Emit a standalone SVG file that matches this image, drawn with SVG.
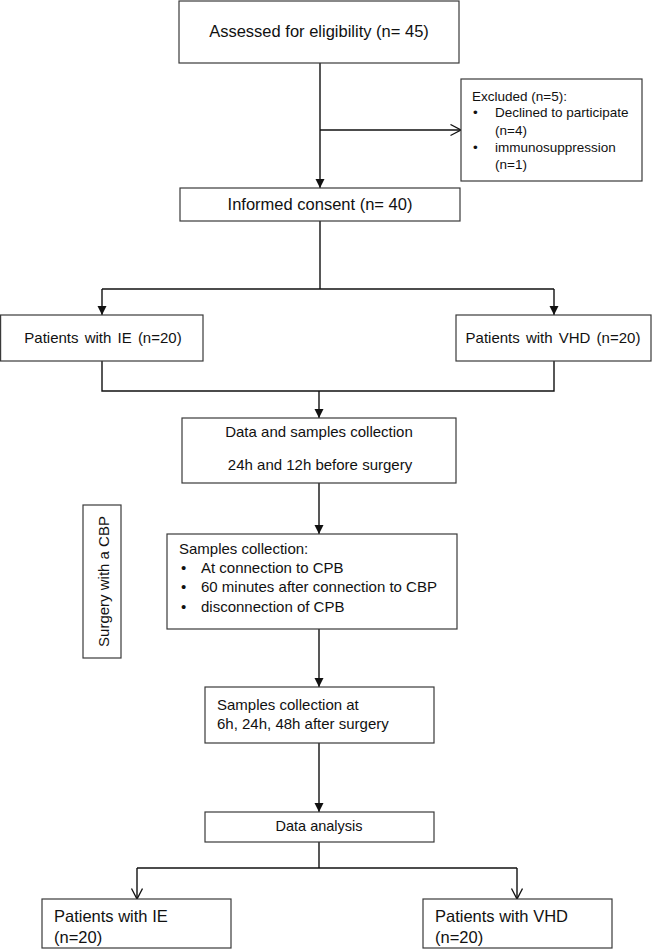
<svg xmlns="http://www.w3.org/2000/svg" width="652" height="949" viewBox="0 0 652 949">
<style>
  .box { fill: #ffffff; stroke: #3a3a3a; stroke-width: 1.2; }
  .ln { fill: none; stroke: #111111; stroke-width: 1.4; }
  text { font-family: "Liberation Sans", Arial, sans-serif; fill: #111111; }
  .t165 { font-size: 16.5px; }
  .t15 { font-size: 15px; }
  .t135 { font-size: 13.5px; }
  .mid { text-anchor: middle; }
</style>
<defs>
  <marker id="fa" markerUnits="userSpaceOnUse" markerWidth="10" markerHeight="10" refX="9" refY="4.5" orient="auto">
    <path d="M0,0 L9,4.5 L0,9 z" fill="#111111"/>
  </marker>
  <marker id="oa" markerUnits="userSpaceOnUse" markerWidth="14" markerHeight="14" refX="11" refY="6" orient="auto">
    <path d="M0.5,0.5 L11,6 L0.5,11.5" fill="none" stroke="#111111" stroke-width="1.3"/>
  </marker>
</defs>
<rect width="652" height="949" fill="#ffffff"/>

<g id="connectors">
  <line class="ln" x1="320" y1="63" x2="320" y2="188" marker-end="url(#fa)"/>
  <line class="ln" x1="320" y1="130" x2="461" y2="130" marker-end="url(#oa)"/>
  <line class="ln" x1="320" y1="221" x2="320" y2="289"/>
  <line class="ln" x1="102" y1="289" x2="554" y2="289"/>
  <line class="ln" x1="102" y1="289" x2="102" y2="315" marker-end="url(#fa)"/>
  <line class="ln" x1="554" y1="289" x2="554" y2="315" marker-end="url(#fa)"/>
  <polyline class="ln" points="102,361 102,391 554,391 554,361"/>
  <line class="ln" x1="319" y1="391" x2="319" y2="418" marker-end="url(#fa)"/>
  <line class="ln" x1="319" y1="483" x2="319" y2="534" marker-end="url(#fa)"/>
  <line class="ln" x1="319" y1="629" x2="319" y2="687" marker-end="url(#fa)"/>
  <line class="ln" x1="319" y1="743" x2="319" y2="812" marker-end="url(#fa)"/>
  <line class="ln" x1="319" y1="842" x2="319" y2="868"/>
  <line class="ln" x1="137" y1="868" x2="517" y2="868"/>
  <line class="ln" x1="137" y1="868" x2="137" y2="899" marker-end="url(#oa)"/>
  <line class="ln" x1="517" y1="868" x2="517" y2="899" marker-end="url(#oa)"/>
</g>

<g id="assessed">
  <rect class="box" x="179" y="1" width="280" height="62"/>
  <text class="t165 mid" x="319" y="37">Assessed for eligibility (n= 45)</text>
</g>

<g id="excluded">
  <rect class="box" x="461" y="79" width="181" height="102"/>
  <text class="t135" x="472" y="101">Excluded  (n=5):</text>
  <text class="t135" x="473" y="117">•</text>
  <text class="t135" x="495" y="117">Declined  to participate</text>
  <text class="t135" x="495" y="135">(n=4)</text>
  <text class="t135" x="473" y="152">•</text>
  <text class="t135" x="495" y="152">immunosuppression</text>
  <text class="t135" x="495" y="169">(n=1)</text>
</g>

<g id="consent">
  <rect class="box" x="180" y="188" width="280" height="33"/>
  <text class="t165 mid" x="320" y="210">Informed consent (n= 40)</text>
</g>

<g id="ie-top">
  <rect class="box" x="0.6" y="315" width="202.4" height="46"/>
  <text class="t15 mid" x="103" y="343" word-spacing="2">Patients with IE (n=20)</text>
</g>

<g id="vhd-top">
  <rect class="box" x="456" y="315" width="195" height="46"/>
  <text class="t15 mid" x="553" y="343" word-spacing="2">Patients with VHD (n=20)</text>
</g>

<g id="data-collection">
  <rect class="box" x="182" y="418" width="274" height="65"/>
  <text class="t15 mid" x="319" y="437">Data and samples collection</text>
  <text class="t15 mid" x="320" y="470">24h and 12h before surgery</text>
</g>

<g id="surgery">
  <rect class="box" x="83" y="505" width="38" height="153"/>
  <text class="t15 mid" transform="translate(109,581.5) rotate(-90)" x="0" y="0">Surgery with a CBP</text>
</g>

<g id="samples-cpb">
  <rect class="box" x="167" y="534" width="290" height="95"/>
  <text class="t15" x="179" y="554">Samples collection:</text>
  <text class="t15" x="181" y="573">•</text>
  <text class="t15" x="201" y="573">At connection to CPB</text>
  <text class="t15" x="181" y="592">•</text>
  <text class="t15" x="201" y="592">60 minutes after connection to CBP</text>
  <text class="t15" x="181" y="612">•</text>
  <text class="t15" x="201" y="612">disconnection of CPB</text>
</g>

<g id="samples-after">
  <rect class="box" x="205" y="687" width="229" height="56"/>
  <text class="t15" x="217" y="710">Samples collection at</text>
  <text class="t15" x="217" y="729">6h, 24h, 48h after surgery</text>
</g>

<g id="analysis">
  <rect class="box" x="205" y="812" width="229" height="30"/>
  <text class="mid" x="319" y="831" font-size="14.5">Data analysis</text>
</g>

<g id="ie-bottom">
  <rect class="box" x="42" y="899" width="189" height="49"/>
  <text class="t165" x="54" y="922">Patients with IE</text>
  <text class="t165" x="54" y="943">(n=20)</text>
</g>

<g id="vhd-bottom">
  <rect class="box" x="423" y="899" width="189" height="49"/>
  <text class="t165" x="435" y="922">Patients with VHD</text>
  <text class="t165" x="435" y="943">(n=20)</text>
</g>
</svg>
